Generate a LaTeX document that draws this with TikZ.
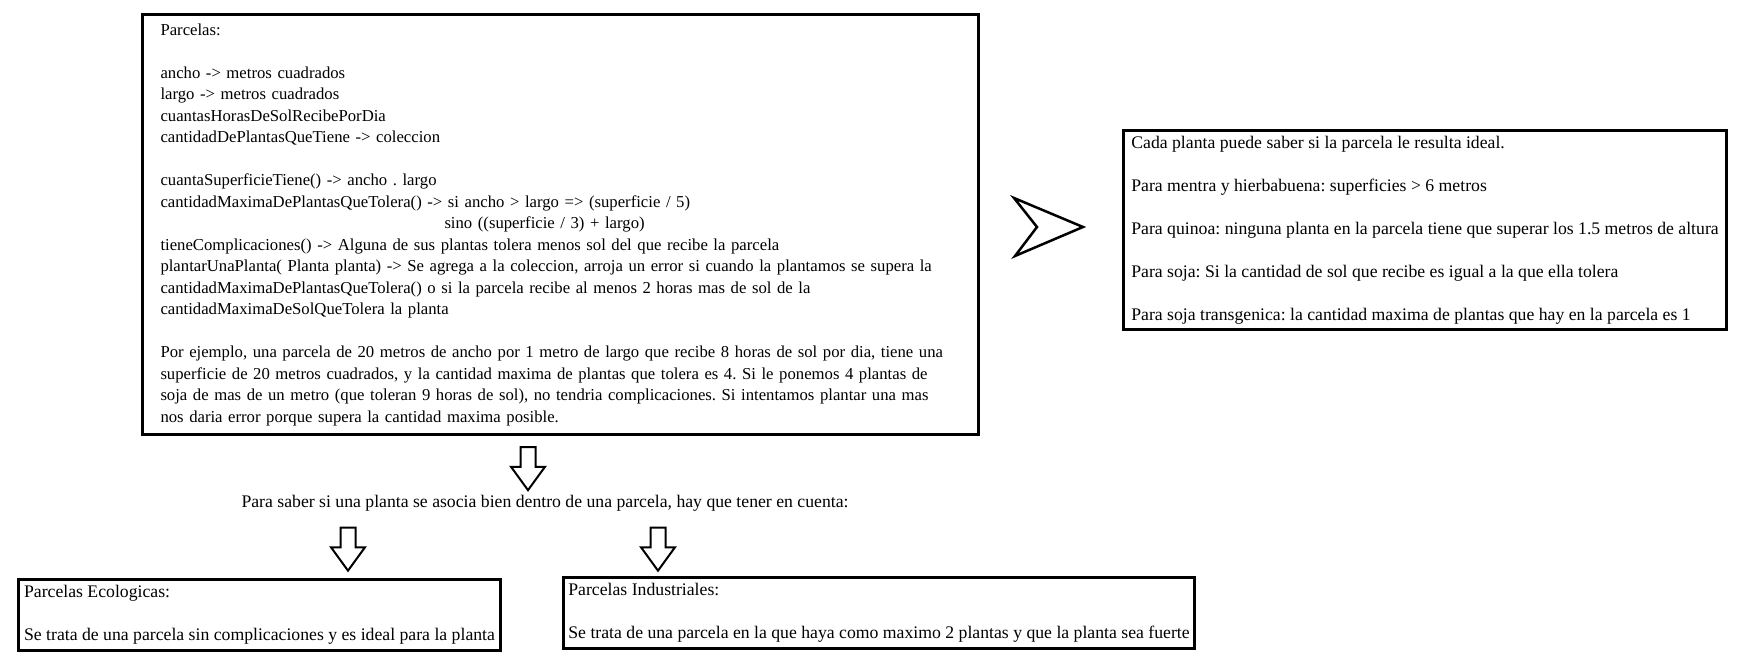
\documentclass[tikz,border=0pt]{standalone}
\usepackage{fontspec}
\setmainfont{Liberation Serif}
\usetikzlibrary{shapes.arrows}
\frenchspacing

\begin{document}
\begin{tikzpicture}[x=1pt, y=-1pt,
  box/.style={draw, line width=3pt, align=left, anchor=north west, inner xsep=6pt, inner ysep=4pt, font=\fontsize{17.7}{21.5}\selectfont},
  flecha/.style={single arrow, draw, line width=2pt, fill=white, rotate=-90, minimum height=43pt, minimum width=32pt, inner sep=6.5pt, single arrow head extend=9.5pt, single arrow tip angle=72}]
\useasboundingbox (0,0) rectangle (1746,668);

\node[box, minimum width=836pt, minimum height=420pt, text width=800pt, inner xsep=18pt, font=\fontsize{16.7}{21.5}\selectfont] (parcela) at (141,13) {Parcelas:\\[21.5pt]
ancho -> metros cuadrados\\
largo -> metros cuadrados\\
cuantasHorasDeSolRecibePorDia\\
cantidadDePlantasQueTiene -> coleccion\\[21.5pt]
cuantaSuperficieTiene() -> ancho . largo\\
cantidadMaximaDePlantasQueTolera() -> si ancho > largo => (superficie / 5)\\
\hspace*{284pt}sino ((superficie / 3) + largo)\\
tieneComplicaciones() -> Alguna de sus plantas tolera menos sol del que recibe la parcela\\
plantarUnaPlanta( Planta planta) -> Se agrega a la coleccion, arroja un error si cuando la plantamos se supera la\\
cantidadMaximaDePlantasQueTolera() o si la parcela recibe al menos 2 horas mas de sol de la\\
cantidadMaximaDeSolQueTolera la planta\\[21.5pt]
Por ejemplo, una parcela de 20 metros de ancho por 1 metro de largo que recibe 8 horas de sol por dia, tiene una\\
superficie de 20 metros cuadrados, y la cantidad maxima de plantas que tolera es 4. Si le ponemos 4 plantas de\\
soja de mas de un metro (que toleran 9 horas de sol), no tendria complicaciones. Si intentamos plantar una mas\\
nos daria error porque supera la cantidad maxima posible.};

\node[box, minimum width=603pt, minimum height=199pt] (ideal) at (1122,129) {Cada planta puede saber si la parcela le resulta ideal.\\[21.5pt]
Para mentra y hierbabuena: superficies > 6 metros\\[21.5pt]
Para quinoa: ninguna planta en la parcela tiene que superar los 1.5 metros de altura\\[21.5pt]
Para soja: Si la cantidad de sol que recibe es igual a la que ella tolera\\[21.5pt]
Para soja transgenica: la cantidad maxima de plantas que hay en la parcela es 1};

\draw[line width=2.5pt, line join=miter] (1014,198) -- (1083,227) -- (1015,256) -- (1037,227) -- cycle;

\node[flecha] (flecha1) at (528,463.5) {};
\node[font=\fontsize{17.7}{21.5}\selectfont] (asocia) at (545,503) {Para saber si una planta se asocia bien dentro de una parcela, hay que tener en cuenta:};
\node[flecha] (flecha2) at (348,544) {};
\node[flecha] (flecha3) at (658,544) {};

\node[box, minimum width=482pt, minimum height=71pt, inner xsep=3pt] (eco) at (17,578) {Parcelas Ecologicas:\\[21.5pt]
Se trata de una parcela sin complicaciones y es ideal para la planta};
\node[box, minimum width=631pt, minimum height=71pt, inner xsep=3pt] (industrial) at (562,576) {Parcelas Industriales:\\[21.5pt]
Se trata de una parcela en la que haya como maximo 2 plantas y que la planta sea fuerte};
\end{tikzpicture}
\end{document}
